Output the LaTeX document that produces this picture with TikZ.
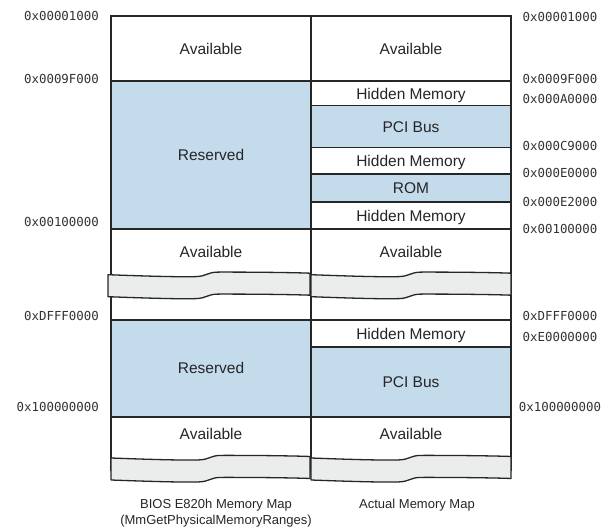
\documentclass[tikz,border=0pt]{standalone}
\usepackage{fontspec}
\setmainfont{Liberation Sans}
\newfontfamily\addrfont{DejaVu Sans Mono}
\definecolor{resblue}{RGB}{196,219,236}
\definecolor{brkgray}{RGB}{235,237,236}
\definecolor{edgecol}{RGB}{38,38,38}
\tikzset{
  memcell/.style={draw=edgecol, line width=1.4pt, fill=white},
  rescell/.style={draw=edgecol, line width=1.4pt, fill=resblue},
  brkband/.style={draw=edgecol, line width=1.3pt, fill=brkgray, line join=round},
  celltext/.style={font=\fontsize{15.5}{17}\selectfont, text height=11.1pt, text depth=0pt, inner sep=0pt, text=black!85},
  captext/.style={font=\fontsize{13}{15}\selectfont, text height=9.4pt, text depth=0pt, inner sep=0pt, text=black!85},
  addrL/.style={font=\addrfont\fontsize{12.4}{14}\selectfont, text height=9pt, text depth=0pt, inner sep=0pt, anchor=east, text=black!80},
  addrR/.style={font=\addrfont\fontsize{12.4}{14}\selectfont, text height=9pt, text depth=0pt, inner sep=0pt, anchor=center, text=black!80}
}
\newcommand\brkband[3]{% x0, x1, y0
  \draw[brkband] ({#1},{#3}) .. controls ({#1+40},{#3+1.5}) and ({#1+72},{#3+2.4}) .. ({#1+88},{#3+1.9})
    .. controls ({#1+99},{#3+1.5}) and ({#1+99},{#3-2.5}) .. ({#1+110},{#3-2.6})
    .. controls ({#1+150},{#3-2.7}) and ({#2-10},{#3-2}) .. ({#2},{#3-1.5})
    -- ({#2},{#3+20.5})
    .. controls ({#2-10},{#3+20}) and ({#1+150},{#3+19.3}) .. ({#1+110},{#3+19.4})
    .. controls ({#1+99},{#3+19.5}) and ({#1+99},{#3+23.5}) .. ({#1+88},{#3+23.9})
    .. controls ({#1+72},{#3+24.4}) and ({#1+40},{#3+23.5}) .. ({#1},{#3+22}) -- cycle;
}
\begin{document}
\begin{tikzpicture}[x=1pt, y=-1pt]
\useasboundingbox (0,0) rectangle (613,527);
% ---- section 1, left column
\draw[memcell] (111,16) rectangle (311,81);
\draw[rescell] (111,81) rectangle (311,229);
\draw[memcell] (111,229) rectangle (311,320);
% ---- section 1, right column
\draw[memcell] (311,16) rectangle (511,81);
\draw[memcell] (311,81) rectangle (511,105.5);
\draw[rescell] (311,105.5) rectangle (511,147.5);
\draw[memcell] (311,147.5) rectangle (511,174);
\draw[rescell] (311,174) rectangle (511,202);
\draw[memcell] (311,202) rectangle (511,229);
\draw[memcell] (311,229) rectangle (511,320);
% ---- section 2, left column
\draw[rescell] (111,320) rectangle (311,417);
\draw[memcell] (111,417) rectangle (311,470);
% ---- section 2, right column
\draw[memcell] (311,320) rectangle (511,347);
\draw[rescell] (311,347) rectangle (511,417);
\draw[memcell] (311,417) rectangle (511,470);
% ---- breaks
\brkband{108}{310}{274.7}
\brkband{311}{511}{274.7}
\brkband{111}{310}{458}
\brkband{311}{511}{458}
% ---- cell texts
\node[celltext] (la1) at (211,48.5) {Available};
\node[celltext] (lr1) at (211,155) {Reserved};
\node[celltext] (la2) at (211,252) {Available};
\node[celltext] (lr2) at (211,368) {Reserved};
\node[celltext] (la3) at (211,434) {Available};
\node[celltext] (ra1) at (411,48.5) {Available};
\node[celltext] (rh1) at (411,93.5) {Hidden Memory};
\node[celltext] (rp1) at (411,127) {PCI Bus};
\node[celltext] (rh2) at (411,161) {Hidden Memory};
\node[celltext] (rrom) at (411,188) {ROM};
\node[celltext] (rh3) at (411,216) {Hidden Memory};
\node[celltext] (ra2) at (411,252) {Available};
\node[celltext] (rh4) at (411,333.5) {Hidden Memory};
\node[celltext] (rp2) at (411,382) {PCI Bus};
\node[celltext] (ra3) at (411,434) {Available};
% ---- captions
\node[captext] (cap1) at (216,504) {BIOS E820h Memory Map};
\node[captext] (cap2) at (216,520) {(MmGetPhysicalMemoryRanges)};
\node[captext] (cap3) at (417,504) {Actual Memory Map};
% ---- left addresses
\node[addrL] (al1) at (99,15.7) {0x00001000};
\node[addrL] (al2) at (99,79) {0x0009F000};
\node[addrL] (al3) at (99,222) {0x00100000};
\node[addrL] (al4) at (99,316) {0xDFFF0000};
\node[addrL] (al5) at (99,407) {0x100000000};
% ---- right addresses
\node[addrR] (ar1) at (560,16.7) {0x00001000};
\node[addrR] (ar2) at (560,79) {0x0009F000};
\node[addrR] (ar3) at (560,99) {0x000A0000};
\node[addrR] (ar4) at (560,146) {0x000C9000};
\node[addrR] (ar5) at (560,173) {0x000E0000};
\node[addrR] (ar6) at (560,201.7) {0x000E2000};
\node[addrR] (ar7) at (560,229) {0x00100000};
\node[addrR] (ar8) at (560,316) {0xDFFF0000};
\node[addrR] (ar9) at (560,337) {0xE0000000};
\node[addrR] (ar10) at (560,407) {0x100000000};
\end{tikzpicture}
\end{document}
